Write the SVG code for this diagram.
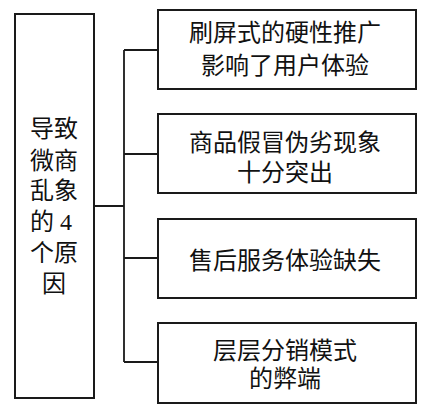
<svg xmlns="http://www.w3.org/2000/svg" width="427" height="410" viewBox="0 0 427 410">
<style>
.box{fill:#fff;stroke:#1a1a1a;stroke-width:2}
.ln{fill:none;stroke:#1a1a1a;stroke-width:1.8}
text{font-family:"Liberation Serif","Noto Sans CJK SC",serif;font-size:24px;fill:#111}
.c{text-anchor:middle}
</style>
<rect width="427" height="410" fill="#fff"/>
<g id="connectors">
<path class="ln" d="M94,206 H124 M124,50 V362 M124,50 H158 M124,154 H158 M124,258 H158 M124,362 H158"/>
</g>
<g id="root">
<rect class="box" x="15" y="14" width="79" height="384"/>
<text class="c" x="54" y="137">导致</text>
<text class="c" x="54" y="169">微商</text>
<text class="c" x="54" y="199">乱象</text>
<text x="30" y="230">的 4</text>
<text class="c" x="54" y="261">个原</text>
<text class="c" x="54" y="292">因</text>
</g>
<g id="n1">
<rect class="box" x="158" y="10" width="258" height="79"/>
<text class="c" x="285" y="41">刷屏式的硬性推广</text>
<text class="c" x="285" y="74">影响了用户体验</text>
</g>
<g id="n2">
<rect class="box" x="158" y="114" width="258" height="79"/>
<text class="c" x="285" y="151">商品假冒伪劣现象</text>
<text class="c" x="285" y="181">十分突出</text>
</g>
<g id="n3">
<rect class="box" x="158" y="219" width="258" height="79"/>
<text class="c" x="285" y="269">售后服务体验缺失</text>
</g>
<g id="n4">
<rect class="box" x="158" y="323" width="258" height="80"/>
<text class="c" x="285" y="359">层层分销模式</text>
<text class="c" x="285" y="387">的弊端</text>
</g>
</svg>
